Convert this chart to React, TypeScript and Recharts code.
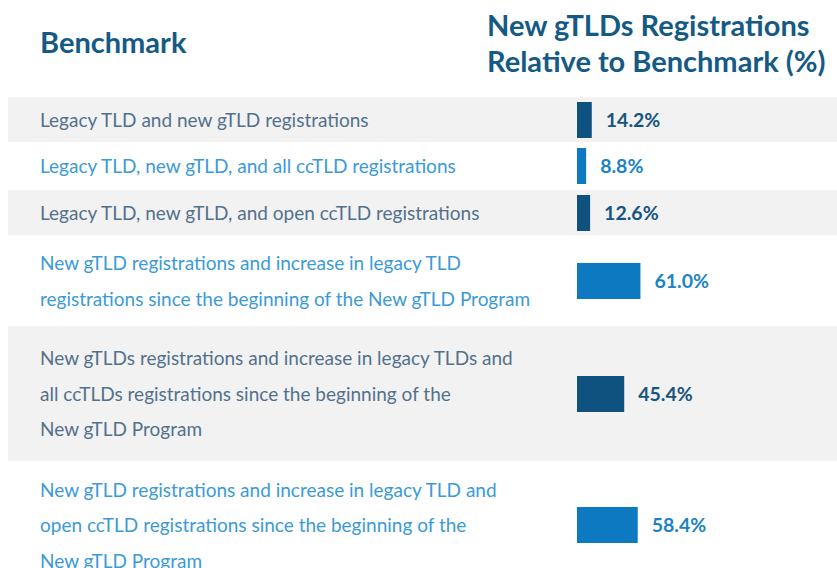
import React from "react"
import { BarChart, Bar, XAxis, YAxis, LabelList } from "recharts"

const benchmarks = [
  "Legacy TLD and new gTLD registrations",
  "Legacy TLD, new gTLD, and all ccTLD registrations",
  "Legacy TLD, new gTLD, and open ccTLD registrations",
  "New gTLD registrations and increase in legacy TLD\nregistrations since the beginning of the New gTLD Program",
  "New gTLDs registrations and increase in legacy TLDs and\nall ccTLDs registrations since the beginning of the\nNew gTLD Program",
  "New gTLD registrations and increase in legacy TLD and\nopen ccTLD registrations since the beginning of the\nNew gTLD Program",
]
const relativePct = [14.2, 8.8, 12.6, 61.0, 45.4, 58.4]
const rowHeights = [45, 48, 45, 91, 135, 128]

const FONT = "Lato, 'Open Sans', sans-serif"
const DARK = { bg: "#f2f2f2", bar: "#0f5280", text: "#52718c", value: "#165580" }
const LIGHT = { bg: "#ffffff", bar: "#0c79c0", text: "#3b9ad8", value: "#1a84c6" }

function Row({ label, value, height, shaded }: { label: string; value: number; height: number; shaded: boolean }) {
  const c = shaded ? DARK : LIGHT
  const data = [{ name: label, value }]
  return (
    <div style={{ display: "flex", height, background: c.bg, alignItems: "center" }}>
      <div
        style={{
          width: 569,
          paddingLeft: 32,
          boxSizing: "border-box",
          whiteSpace: "pre-line",
          fontSize: 19,
          lineHeight: "35.5px",
          color: c.text,
        }}
      >
        {label}
      </div>
      <BarChart width={260} height={height} data={data} layout="vertical" margin={{ top: 0, right: 0, bottom: 0, left: 0 }}>
        <XAxis type="number" domain={[0, 250]} hide />
        <YAxis type="category" dataKey="name" hide />
        <Bar dataKey="value" fill={c.bar} barSize={36} isAnimationActive={false}>
          <LabelList
            dataKey="value"
            position="right"
            offset={14}
            formatter={(v: any) => Number(v).toFixed(1) + "%"}
            style={{ fontFamily: FONT, fontSize: 19.5, fontWeight: 700, fill: c.value }}
          />
        </Bar>
      </BarChart>
    </div>
  )
}

export default function App() {
  return (
    <div
      style={{
        position: "absolute",
        left: 0,
        top: 0,
        width: 837,
        height: 568,
        overflow: "hidden",
        background: "#fff",
        fontFamily: FONT,
      }}
    >
      <div style={{ position: "absolute", left: 40, top: 24, fontSize: 29, fontWeight: 700, color: "#145a85" }}>
        Benchmark
      </div>
      <div
        style={{
          position: "absolute",
          left: 487,
          top: 7,
          fontSize: 29,
          lineHeight: "36px",
          fontWeight: 700,
          color: "#145a85",
          whiteSpace: "nowrap",
        }}
      >
        New gTLDs Registrations
        <br />
        Relative to Benchmark (%)
      </div>
      <div style={{ position: "absolute", left: 8, top: 97, width: 829 }}>
        {benchmarks.map((b, i) => (
          <Row key={i} label={b} value={relativePct[i]} height={rowHeights[i]} shaded={i % 2 === 0} />
        ))}
      </div>
    </div>
  )
}
